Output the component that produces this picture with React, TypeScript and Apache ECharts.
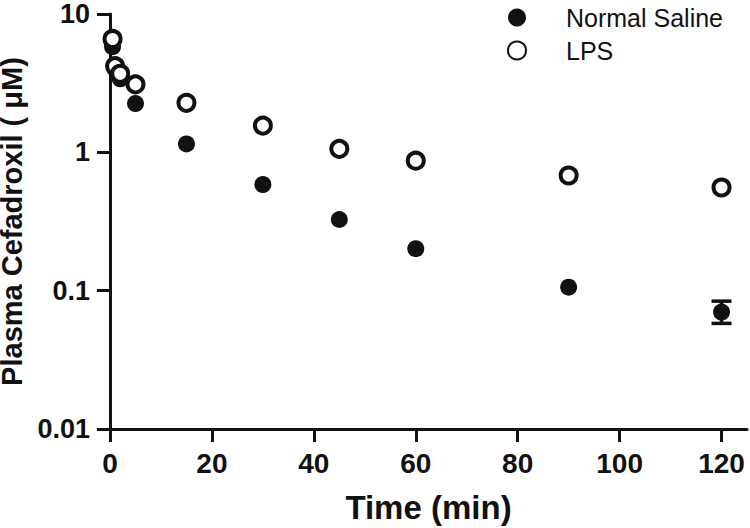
import React, { useEffect, useRef } from "react";
import * as echarts from "echarts";

const timesMin = [0.5, 1, 2, 5, 15, 30, 45, 60, 90, 120];
const normalSaline = [5.8, 4.0, 3.4, 2.25, 1.15, 0.585, 0.327, 0.201, 0.106, 0.07];
const lps = [6.6, 4.2, 3.7, 3.1, 2.28, 1.56, 1.06, 0.87, 0.68, 0.557];
// visible error bar (Normal Saline at 120 min): [time, low, high]
const salineErrors = [[120, 0.058, 0.084]];
const xTicks = [0, 20, 40, 60, 80, 100, 120];
const yTicks = [0.01, 0.1, 1, 10];

const FONT = "'Liberation Sans', Arial, Helvetica, sans-serif";

export default function App() {
  const ref = useRef<HTMLDivElement>(null);
  useEffect(() => {
    if (!ref.current) return;
    const chart = echarts.init(ref.current, undefined, { renderer: "svg" });
    const axisCommon = {
      axisLine: { show: true, lineStyle: { color: "#111", width: 3 } },
      axisTick: { show: true, length: 13, lineStyle: { color: "#111", width: 3 } },
      splitLine: { show: false },
      minorTick: { show: false },
    };
    chart.setOption({
      animation: false,
      backgroundColor: "#fff",
      textStyle: { fontFamily: FONT },
      legend: {
        orient: "vertical",
        left: 502,
        top: 0,
        itemWidth: 18,
        itemHeight: 18,
        itemGap: 8,
        icon: "circle",
        textStyle: { fontFamily: FONT, fontSize: 25, color: "#111", padding: [0, 0, 0, 35] },
        data: ["Normal Saline", "LPS"],
      },
      grid: { left: 110, right: 3, top: 14, bottom: 99, containLabel: false, outerBoundsMode: "none" },
      xAxis: {
        type: "value",
        min: 0,
        max: 125,
        interval: 20,
        ...axisCommon,
        axisTick: { ...axisCommon.axisTick, customValues: xTicks },
        axisLabel: {
          customValues: xTicks,
          margin: 20,
          fontFamily: FONT,
          fontSize: 28,
          fontWeight: "bold",
          color: "#111",
        },
        name: "Time (min)",
        nameLocation: "middle",
        nameGap: 62,
        nameTextStyle: { fontFamily: FONT, fontSize: 33, fontWeight: "bold", color: "#111" },
      },
      yAxis: {
        type: "log",
        logBase: 10,
        min: 0.01,
        max: 10,
        ...axisCommon,
        axisTick: { ...axisCommon.axisTick, customValues: yTicks },
        axisLabel: {
          customValues: yTicks,
          margin: 20,
          fontFamily: FONT,
          fontSize: 27,
          fontWeight: "bold",
          color: "#111",
          formatter: (v: number) => String(v),
        },
        name: "Plasma Cefadroxil ( μM)",
        nameLocation: "middle",
        nameGap: 74,
        nameTextStyle: { fontFamily: FONT, fontSize: 29, fontWeight: "bold", color: "#111" },
      },
      series: [
        {
          type: "custom",
          name: "errNS",
          data: salineErrors,
          z: 1,
          renderItem: (params: any, api: any) => {
            const t = api.value(0);
            const lo = api.coord([t, api.value(1)]);
            const hi = api.coord([t, api.value(2)]);
            const hw = 10;
            const st = { stroke: "#111", lineWidth: 3.5 };
            return {
              type: "group",
              children: [
                { type: "line", shape: { x1: lo[0], y1: lo[1], x2: hi[0], y2: hi[1] }, style: st },
                { type: "line", shape: { x1: lo[0] - hw, y1: lo[1], x2: lo[0] + hw, y2: lo[1] }, style: st },
                { type: "line", shape: { x1: hi[0] - hw, y1: hi[1], x2: hi[0] + hw, y2: hi[1] }, style: st },
              ],
            };
          },
        },
        {
          type: "scatter",
          name: "Normal Saline",
          symbol: "circle",
          symbolSize: 17,
          z: 2,
          itemStyle: { color: "#111", opacity: 1 },
          data: timesMin.map((t, i) => [t, normalSaline[i]]),
        },
        {
          type: "scatter",
          name: "LPS",
          symbol: "circle",
          symbolSize: 16,
          z: 3,
          itemStyle: { color: "#fff", borderColor: "#111", borderWidth: 4, opacity: 1 },
          data: timesMin.map((t, i) => [t, lps[i]]),
        },
      ],
    });
    return () => chart.dispose();
  }, []);
  return (
    <div
      ref={ref}
      style={{ position: "fixed", left: 0, top: 0, width: 750, height: 528, background: "#fff" }}
    />
  );
}
